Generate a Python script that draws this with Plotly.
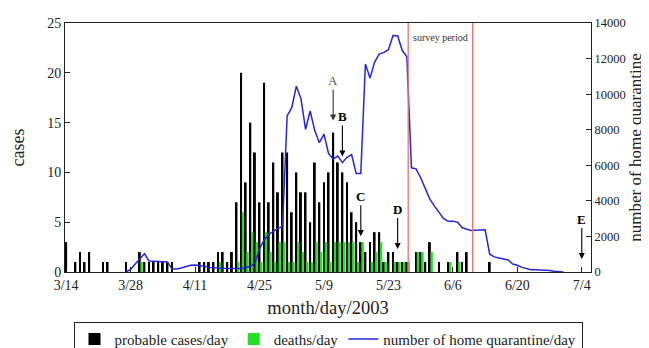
import plotly.graph_objects as go
import pandas as pd

# ---------------- data (one value per day from 3/14/2003 to 7/4/2003) ----------------
start_date = "2003-03-14"
n_days = 113
dates = pd.date_range(start_date, periods=n_days, freq="D")

cases = [3, 0, 1, 2, 1, 2, 0, 0, 1, 1, 0, 0, 0, 1, 0, 0, 2, 1, 1, 1,
         1, 1, 1, 1, 0, 0, 0, 0, 0, 1, 1, 1, 1, 2, 2, 1, 2, 7, 20, 9,
         15, 12, 7, 19, 7, 11, 8, 12, 12, 6, 10, 8, 8, 5, 11, 7, 9, 10, 14, 11,
         10, 9, 6, 5, 3, 2, 3, 4, 4, 1, 2, 2, 1, 1, 1, 0, 2, 2, 1, 3,
         0, 1, 0, 1, 0, 2, 1, 2, 0, 0, 0, 0, 1, 0, 0, 0, 0, 0, 0, 0,
         0, 0, 0, 0, 0, 0, 0, 0, 0, 0, 0, 0, 0]

deaths = [0, 0, 0, 0, 0, 0, 0, 0, 0, 0, 0, 0, 0, 0, 0, 0, 1, 0, 0, 0,
          0, 0, 0, 0, 0, 0, 0, 0, 0, 0, 0, 0, 0, 1, 0, 0, 0, 1, 6, 2,
          4, 3, 1, 4, 2, 1, 3, 3, 1, 1, 3, 2, 1, 1, 3, 2, 3, 1, 3, 3,
          3, 3, 3, 1, 3, 0, 1, 2, 3, 1, 0, 1, 1, 1, 1, 0, 2, 2, 0, 2,
          0, 0, 0, 1, 0, 1, 0, 0, 0, 0, 0, 0, 0, 0, 0, 0, 0, 0, 0, 0,
          0, 0, 0, 0, 0, 0, 0, 0, 0, 0, 0, 0, 0]

quarantine = [None] * 13 + [
    0, 150, 450, 750, 1030, 620, 600, 600, 590, 560,
    180, 170, 220, 320, 380, 390, 380, 330, 260, 225,
    220, 210, 200, 180, 170, 200, 250, 320, 510, 1300,
    1800, 2100, 2290, 2450, 2560, 8780, 9240, 10450, 9750, 8020,
    9050, 7950, 7270, 7750, 6650, 6350, 6520, 6150, 6450, 6600,
    5540, 5540, 11700, 10900, 11800, 12250, 12350, 12500, 13300, 13280,
    12450, 12100, 5860, 5800, 5300, 4700, 4100, 3700, 3350, 3000,
    2850, 2860, 2800, 2500, 2400, 2330, 2350, 2370, 2370, 1000,
    850, 790, 720, 680, 450, 380, 260, 180, 130, 120,
    110, 110, 80, 40, 10, 0] + [None] * 4

tick_dates = ["2003-03-14", "2003-03-28", "2003-04-11", "2003-04-25", "2003-05-09",
              "2003-05-23", "2003-06-06", "2003-06-20", "2003-07-04"]
tick_labels = ["3/14", "3/28", "4/11", "4/25", "5/9", "5/23", "6/6", "6/20", "7/4"]
left_ticks = [0, 5, 10, 15, 20, 25]
right_ticks = [0, 2000, 4000, 6000, 8000, 10000, 12000, 14000]

survey_start = "2003-05-27 07:00"
survey_end = "2003-06-10 07:00"

# annotation marks: (label, date, cases value at arrow tip, bold)
marks = [("A", "2003-05-11", 15.2, False),
         ("B", "2003-05-13", 11.6, True),
         ("C", "2003-05-17", 3.6, True),
         ("D", "2003-05-25", 2.3, True),
         ("E", "2003-07-04", 1.3, True)]

# ---------------- figure ----------------
DAY = 86400000
FONT = "Liberation Serif"

fig = go.Figure()
fig.add_trace(go.Bar(x=dates, y=cases, name="probable cases/day",
                     marker=dict(color="black", line=dict(width=0)),
                     width=DAY * 0.42, offset=-DAY * 0.21))
fig.add_trace(go.Bar(x=dates, y=deaths, name="deaths/day",
                     marker=dict(color="#22e022", line=dict(width=0)),
                     width=DAY * 0.5, offset=DAY * 0.15))
fig.add_trace(go.Scatter(x=dates, y=quarantine, yaxis="y2", mode="lines",
                         name="number of home quarantine/day",
                         line=dict(color="#2626d9", width=1.5)))

for xs in (survey_start, survey_end):
    fig.add_shape(type="line", xref="x", yref="paper", x0=xs, x1=xs, y0=0, y1=1,
                  line=dict(color="#e57373", width=1.3))

fig.add_annotation(x=pd.Timestamp(survey_start) + (pd.Timestamp(survey_end) - pd.Timestamp(survey_start)) / 2,
                   y=23.5, xref="x", yref="y", text="survey period", showarrow=False,
                   font=dict(family=FONT, size=10, color="#333"))

for lab, d, yv, bold in marks:
    fig.add_annotation(x=d, y=yv, xref="x", yref="y",
                       text=f"<b>{lab}</b>" if bold else lab,
                       showarrow=True, arrowhead=2, arrowsize=1.1, arrowwidth=1.1,
                       arrowcolor="black" if bold else "#333",
                       ax=0, ay=-40, standoff=0,
                       font=dict(family=FONT, size=13, color="black" if bold else "#555"))

axis_common = dict(showline=True, linecolor="#222", linewidth=1, showgrid=False,
                   zeroline=False, ticks="inside", ticklen=5, tickcolor="#222",
                   automargin=False)

fig.update_layout(
    width=649, height=348,
    margin=dict(l=57, r=66, t=15, b=84, autoexpand=False),
    paper_bgcolor="white", plot_bgcolor="white",
    barmode="overlay",
    font=dict(family=FONT, color="#222"),
    xaxis=dict(type="date",
               range=[pd.Timestamp(start_date) - pd.Timedelta(hours=6), pd.Timestamp("2003-07-06")],
               tickvals=tick_dates, ticktext=tick_labels, mirror=True,
               tickfont=dict(family=FONT, size=14, color="#222"),
               title=dict(text="month/day/2003", font=dict(family=FONT, size=18.5), standoff=9),
               **axis_common),
    yaxis=dict(range=[0, 25], tickvals=left_ticks, ticktext=[str(v) for v in left_ticks],
               tickfont=dict(family=FONT, size=14, color="#222"),
               title=dict(text="cases", font=dict(family=FONT, size=18), standoff=18),
               **axis_common),
    yaxis2=dict(range=[0, 14000], tickvals=right_ticks, ticktext=[str(v) for v in right_ticks],
                overlaying="y", side="right",
                tickfont=dict(family=FONT, size=12.5, color="#222"),
                title=dict(text="number of home quarantine", font=dict(family=FONT, size=17), standoff=4),
                **axis_common),
    legend=dict(orientation="h", x=0.5, xanchor="center", y=-0.2, yanchor="top",
                bordercolor="#222", borderwidth=1, bgcolor="white",
                font=dict(family=FONT, size=15, color="#222"),
                itemwidth=30, tracegroupgap=0),
    showlegend=True,
)

fig.write_html("out.html")
